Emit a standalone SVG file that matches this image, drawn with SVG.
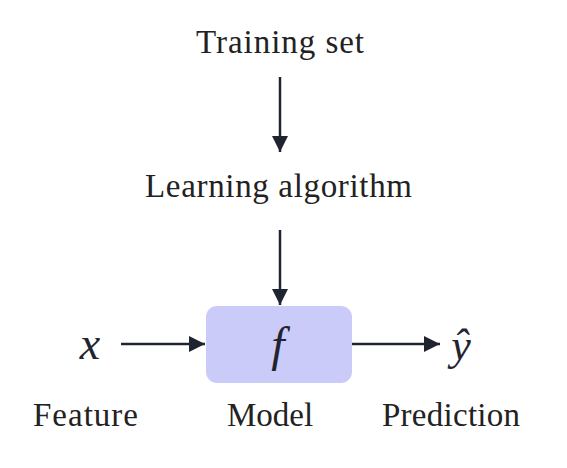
<svg xmlns="http://www.w3.org/2000/svg" width="567" height="468" viewBox="0 0 567 468">
<style>
.lbl{font-family:"Liberation Serif","Times New Roman",serif;font-size:33px;fill:#222;text-anchor:middle}
.math{font-family:"Liberation Serif","Times New Roman",serif;font-style:italic;fill:#1f2430;text-anchor:middle}
.conn{stroke:#1f2430;stroke-width:2.5;fill:none}
</style>
<defs>
<marker id="ah" viewBox="0 0 10 10" refX="10" refY="5" markerWidth="18" markerHeight="16" markerUnits="userSpaceOnUse" orient="auto">
<path d="M0,0 L10,5 L0,10 z" fill="#1f2430"/>
</marker>
</defs>
<rect width="567" height="468" fill="#fff"/>
<g id="training-set"><text class="lbl" x="280" y="53" textLength="168" lengthAdjust="spacing">Training set</text></g>
<g id="learning-algorithm"><text class="lbl" x="278.5" y="197" textLength="267" lengthAdjust="spacing">Learning algorithm</text></g>
<g id="model">
<rect x="206" y="306" width="146" height="77" rx="11" fill="#cbcbfa"/>
<text class="math" x="278" y="361" font-size="48">f</text>
<text class="lbl" x="270" y="426" font-size="29">Model</text>
</g>
<g id="feature">
<text class="math" x="90" y="359" font-size="46">x</text>
<text class="lbl" x="85.5" y="426" textLength="105" lengthAdjust="spacing">Feature</text>
</g>
<g id="prediction">
<text class="math" x="461" y="360" font-size="44">ŷ</text>
<text class="lbl" x="451" y="426" textLength="138" lengthAdjust="spacing">Prediction</text>
</g>
<g id="connectors">
<line class="conn" x1="280" y1="77" x2="280" y2="152" marker-end="url(#ah)"/>
<line class="conn" x1="280" y1="230" x2="280" y2="305" marker-end="url(#ah)"/>
<line class="conn" x1="121" y1="344" x2="205" y2="344" marker-end="url(#ah)"/>
<line class="conn" x1="352" y1="344" x2="440" y2="344" marker-end="url(#ah)"/>
</g>
</svg>
